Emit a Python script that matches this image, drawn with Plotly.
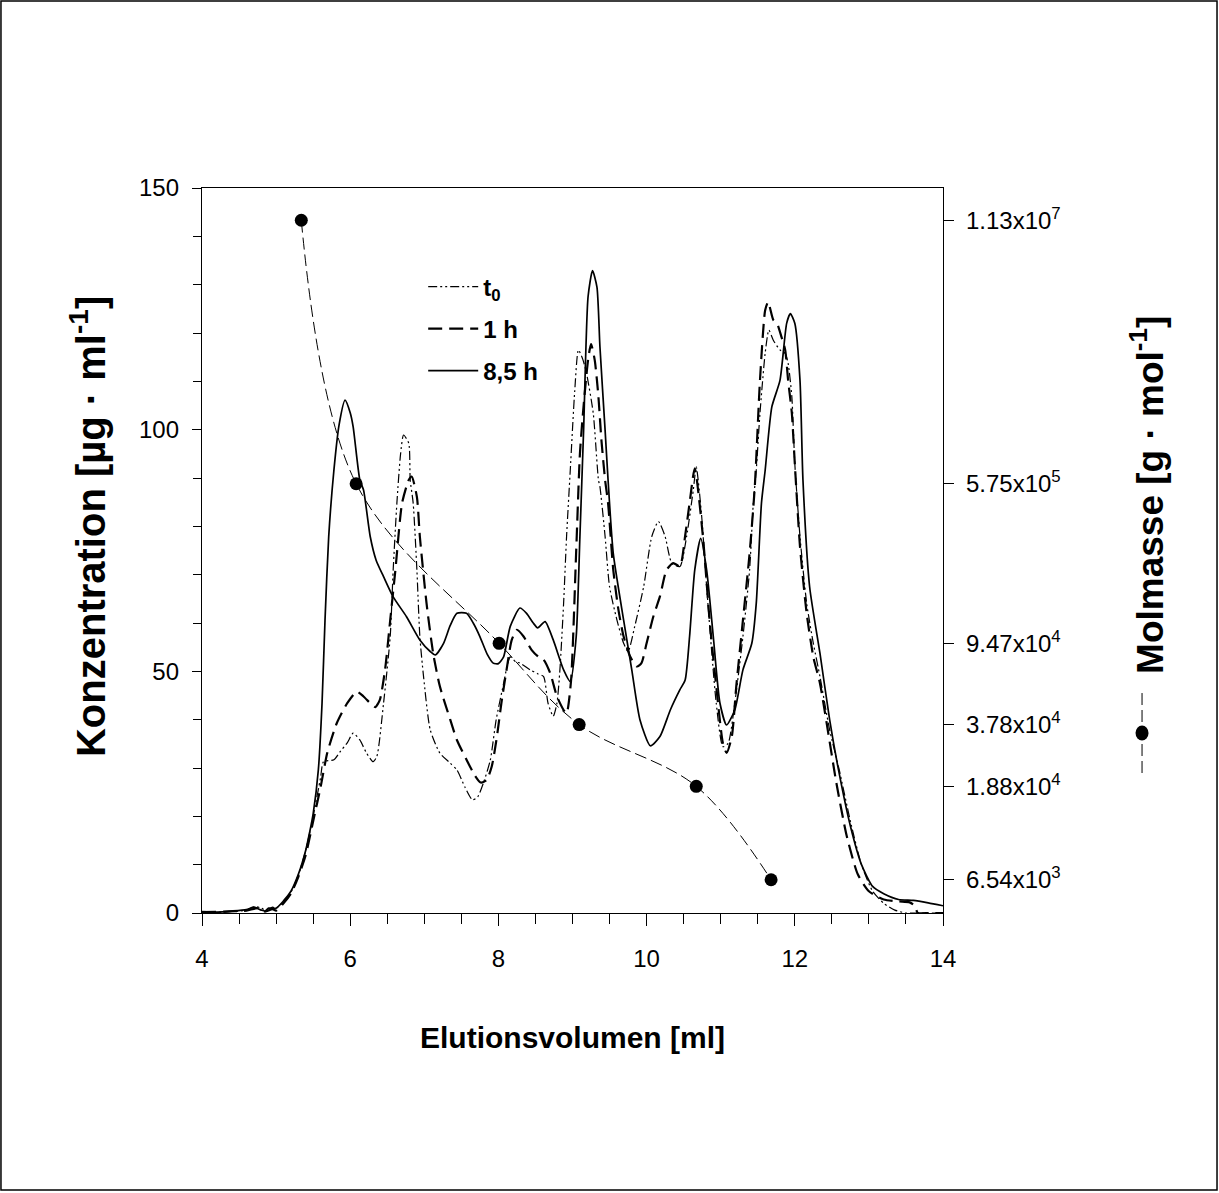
import plotly.graph_objects as go

# ---- data -------------------------------------------------------------
vol_85h = [4.0,4.2,4.4,4.6,4.7,4.8,4.85,4.9,5.0,5.1,5.2,5.3,5.4,5.45,5.5,5.57,5.62,5.66,5.71,5.78,
           5.85,5.93,6.0,6.04,6.13,6.18,6.27,6.35,6.45,6.58,6.76,6.94,7.08,7.15,7.26,7.35,7.44,7.57,7.66,7.75,
           7.85,7.93,8.0,8.07,8.16,8.29,8.38,8.47,8.53,8.63,8.74,8.88,8.97,9.05,9.1,9.15,9.21,9.27,9.33,9.37,
           9.44,9.48,9.55,9.69,9.8,9.91,10.05,10.18,10.32,10.45,10.52,10.58,10.65,10.73,10.81,10.9,10.99,11.08,11.19,11.3,
           11.42,11.48,11.55,11.6,11.69,11.8,11.89,11.94,12.0,12.07,12.11,12.2,12.34,12.47,12.59,12.75,12.9,13.05,13.2,13.4,
           13.6,13.8,14.0]
conc_85h = [0.3,0.2,0.4,0.7,1.2,0.6,0.4,1.0,1.0,2.5,4.5,8.0,13.0,16.5,20.5,29.6,43.4,60.6,77.9,91.6,
            101,106.1,103.5,100.6,89.6,87.5,77.9,73,69.6,65.4,61.3,56.5,54.1,53.4,55.8,59.5,62,62,60,57.2,
            53.5,51.7,51.6,53,59.3,63.1,62,60,59,60.3,56.5,50.3,47.9,57.2,77.9,100,127.5,132.9,129.5,117.2,
            99.9,89.6,74.4,60.6,50.3,40,34.6,36.5,42,46.2,48.2,57.2,71,77.5,71,57.2,43.4,38.9,42,50.3,
            55.8,64.1,84.8,91.6,104.7,110.2,122,124,122,110.2,89.6,67.5,53.7,40,29.6,18,10,5.5,4,2.8,
            2.6,2.1,1.5]

vol_1h = [4.0,4.3,4.6,4.75,4.85,4.95,5.0,5.1,5.2,5.3,5.4,5.5,5.6,5.69,5.82,5.96,6.09,6.18,6.29,6.34,
          6.4,6.47,6.54,6.61,6.7,6.79,6.83,6.9,6.94,7.03,7.12,7.21,7.35,7.44,7.57,7.68,7.76,7.84,7.91,7.98,
          8.04,8.11,8.18,8.25,8.34,8.45,8.54,8.61,8.7,8.79,8.88,8.92,8.98,9.05,9.1,9.15,9.21,9.25,9.3,9.35,
          9.39,9.44,9.48,9.55,9.62,9.69,9.78,9.87,9.93,10.0,10.09,10.18,10.27,10.36,10.45,10.52,10.58,10.65,10.76,10.85,
          10.94,11.03,11.08,11.15,11.21,11.3,11.39,11.46,11.53,11.6,11.64,11.71,11.76,11.82,11.87,11.91,11.96,12.0,12.07,12.16,
          12.25,12.34,12.43,12.56,12.7,12.85,13.0,13.2,13.4,13.55,13.62,13.66,13.8,14.0]
conc_1h = [0.2,0.3,0.5,1.0,0.3,0.8,0.5,2.0,4.0,7.5,12.0,19.0,26.0,33.1,39.3,43.4,45.8,44.8,43.1,42.6,
           44.1,50.3,60.6,71.0,84.8,89.6,90.3,86.1,77.9,64.1,53.7,46.9,40.0,35.8,31.7,28.5,27.0,27.5,30.3,36.5,
           43.4,50.3,56.5,58.6,57.2,54.4,53.0,52.4,49.6,44.8,42.0,41.3,48,75,95,105,114.4,117.7,114.4,106.8,
           97.9,89.6,84.8,71.0,62.7,57.2,53.0,51.0,51.7,55.8,61.3,65.5,71.0,72.4,71.7,78,84.8,92.0,77.9,60.6,
           46.9,35.1,33.1,36.5,46.9,60.6,74.4,88.2,110.2,124.7,126.4,122.7,122.0,119.2,116.5,110.2,103.4,93.0,75.8,62.0,
           53.0,47.5,39.3,27,16,8,4.5,2.8,2.4,2.2,1.5,0,0,0]

vol_t0 = [4.0,4.3,4.6,4.72,4.8,4.88,4.95,5.0,5.1,5.2,5.3,5.4,5.5,5.6,5.64,5.78,5.87,5.96,6.04,6.13,
          6.22,6.31,6.36,6.45,6.54,6.58,6.63,6.68,6.72,6.79,6.81,6.85,6.9,6.94,6.99,7.08,7.21,7.35,7.44,7.55,
          7.65,7.72,7.8,7.89,7.97,8.05,8.16,8.23,8.29,8.43,8.53,8.61,8.67,8.74,8.79,8.83,8.88,8.92,8.97,9.03,
          9.08,9.14,9.19,9.28,9.35,9.37,9.44,9.5,9.6,9.69,9.75,9.84,9.96,10.07,10.16,10.25,10.34,10.45,10.54,10.63,
          10.67,10.74,10.81,10.88,10.94,11.03,11.1,11.19,11.3,11.39,11.44,11.48,11.53,11.6,11.65,11.71,11.8,11.87,11.91,11.96,
          12.0,12.07,12.16,12.25,12.34,12.47,12.6,12.75,12.9,13.05,13.2,13.35,13.5,13.7,14.0]
conc_t0 = [0.3,0.2,0.6,1.3,1.0,0.4,1.2,1.0,2.3,4.3,7.8,13.0,20.0,28.0,31.3,31.7,33.5,35.2,37.2,35.8,
           33.1,31.3,32.4,43.4,57.2,71.0,84.8,95,98.9,97.2,89.6,84.8,71.0,57.2,48.9,37.9,33.1,31.0,29.6,26,
           23.4,24,27,31.6,40,46,53.0,52,51.7,50.3,49.5,48.9,43.4,40.7,43.4,50.3,64.1,77.9,91.65,108,
           116.5,114.5,111.6,103.4,89.6,88.2,77.9,67.5,60.6,55.8,54.1,59.3,67.5,77.9,81.0,77.9,72.4,71.7,77.9,87.5,
           92.3,82.7,67.5,53.7,43.4,34.4,35.1,43.4,57.2,71.0,84.8,91.65,103.4,115.8,120.6,118.5,116.5,115.8,113.7,106.8,
           93.0,77.9,64.1,55.8,48.9,37.9,29.6,19,10,4.5,2.0,0.6,0,0,0]

vol_molmasse = [5.34, 6.08, 8.01, 9.09, 10.67, 11.68]
molmasse = [1.13e7, 5.75e5, 9.47e4, 3.78e4, 1.88e4, 6.54e3]
molmasse_ticktext = ["1.13x10<sup>7</sup>", "5.75x10<sup>5</sup>", "9.47x10<sup>4</sup>",
                     "3.78x10<sup>4</sup>", "1.88x10<sup>4</sup>", "6.54x10<sup>3</sup>"]

series_names = ["t<sub>0</sub>", "1 h", "8,5 h"]
title_x = "Elutionsvolumen [ml]"
title_y = "Konzentration [µg · ml<sup>-1</sup>]"
title_y2 = "Molmasse [g · mol<sup>-1</sup>]"

FONT = "Liberation Sans, Arial, sans-serif"

# ---- figure -----------------------------------------------------------
fig = go.Figure()

fig.add_trace(go.Scatter(x=vol_t0, y=conc_t0, name=series_names[0], mode="lines",
                         line=dict(color="black", width=1.2, dash="9px,3px,2px,3px,2px,3px",
                                   shape="spline", smoothing=0.6),
                         legend="legend"))
fig.add_trace(go.Scatter(x=vol_1h, y=conc_1h, name=series_names[1], mode="lines",
                         line=dict(color="black", width=2.2, dash="14px,7px",
                                   shape="spline", smoothing=0.6),
                         legend="legend2"))
fig.add_trace(go.Scatter(x=vol_85h, y=conc_85h, name=series_names[2], mode="lines",
                         line=dict(color="black", width=1.7, shape="spline", smoothing=0.6),
                         legend="legend3"))
fig.add_trace(go.Scatter(x=vol_molmasse, y=molmasse, name="Molmasse", mode="lines+markers",
                         yaxis="y2", showlegend=False,
                         line=dict(color="black", width=1, dash="12px,5px", shape="spline", smoothing=1.0),
                         marker=dict(color="black", size=13)))

legend_common = dict(font=dict(family=FONT, size=24, color="black", weight="bold"),
                     bgcolor="rgba(0,0,0,0)", xanchor="left", yanchor="middle",
                     itemwidth=50, borderwidth=0)
fig.update_layout(
    width=1219, height=1193,
    margin=dict(l=202, r=276, t=188, b=280),
    paper_bgcolor="white", plot_bgcolor="white",
    font=dict(family=FONT, color="black"),
    legend=dict(x=0.2985, y=0.8634, **legend_common),
    legend2=dict(x=0.2985, y=0.8055, **legend_common),
    legend3=dict(x=0.2985, y=0.7476, **legend_common),
    xaxis=dict(range=[4, 14], dtick=2, tick0=4, showgrid=False, zeroline=False,
               showline=True, linecolor="black", linewidth=1.3, mirror=True,
               ticks="outside", ticklen=12, tickwidth=1.3, tickcolor="black",
               tickfont=dict(family=FONT, size=24), ticklabelstandoff=12,
               minor=dict(dtick=0.5, ticks="outside", ticklen=10, tickwidth=1.2, tickcolor="black"),
               title=dict(text=title_x, standoff=56,
                          font=dict(family=FONT, size=30, weight="bold"))),
    yaxis=dict(range=[0, 150], dtick=50, showgrid=False, zeroline=False,
               showline=True, linecolor="black", linewidth=1.3,
               ticks="outside", ticklen=9, tickwidth=1.3, tickcolor="black",
               tickfont=dict(family=FONT, size=24), ticklabelstandoff=8,
               minor=dict(dtick=10, ticks="outside", ticklen=8, tickwidth=1.2, tickcolor="black")),
    yaxis2=dict(type="log", range=[3.6523, 7.2115], overlaying="y", side="right",
                showgrid=False, zeroline=False, showline=True, linecolor="black", linewidth=1.3,
                tickmode="array", tickvals=molmasse, ticktext=molmasse_ticktext,
                ticks="outside", ticklen=10, tickwidth=1.3, tickcolor="black",
                tickfont=dict(family=FONT, size=24), ticklabelstandoff=7),
    annotations=[
        dict(text=title_y, xref="paper", yref="paper", x=-0.1538, y=0.5324, textangle=-90,
             xanchor="center", yanchor="middle", showarrow=False,
             font=dict(family=FONT, size=40, weight="bold", color="black")),
        dict(text=title_y2, xref="paper", yref="paper", x=1.2766, y=0.5766, textangle=-90,
             xanchor="center", yanchor="middle", showarrow=False,
             font=dict(family=FONT, size=37, weight="bold", color="black")),
    ],
    shapes=[
        # outer frame
        dict(type="rect", xref="paper", yref="paper", x0=-0.2713, x1=1.3698, y0=-0.3821, y1=1.2579,
             line=dict(color="black", width=1.5), layer="below"),
        # rotated legend sample for Molmasse
        dict(type="line", xref="paper", yref="paper", x0=1.2686, x1=1.2686, y0=0.1931, y1=0.3034,
             line=dict(color="black", width=1, dash="12px,5px")),
        dict(type="circle", xref="paper", yref="paper", xsizemode="pixel", ysizemode="pixel",
             xanchor=1.2686, yanchor=0.2483, x0=-6.5, x1=6.5, y0=-7.5, y1=7.5,
             fillcolor="black", line=dict(color="black", width=0)),
    ],
)

fig.write_html("out.html")
